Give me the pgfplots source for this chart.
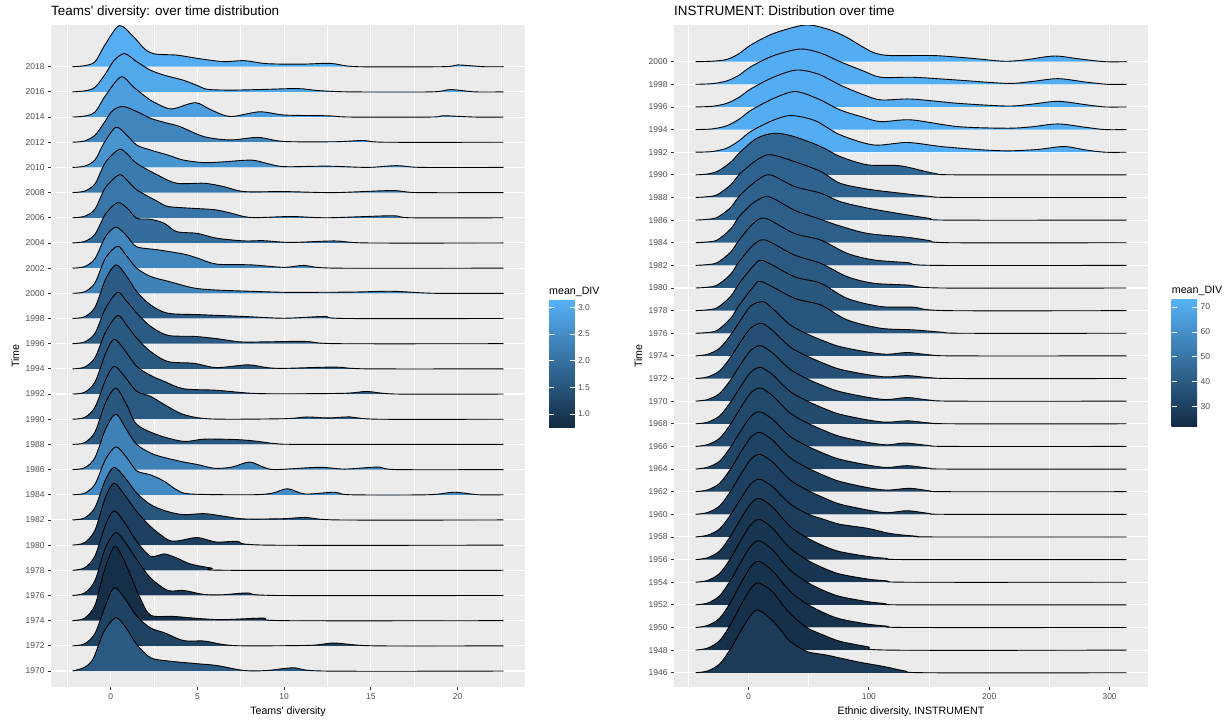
\documentclass[border=0pt]{standalone}
\usepackage{fontspec}
\setmainfont{Liberation Sans}[Ligatures=TeXOff]
\usepackage{pgfplots}
\pgfplotsset{compat=1.18}

\definecolor{gglo}{HTML}{132B43}
\definecolor{gghi}{HTML}{56B1F7}
\definecolor{ggpanel}{HTML}{EBEBEB}
\definecolor{ggtext}{HTML}{4D4D4D}
\definecolor{ggtick}{HTML}{333333}

\pgfplotsset{
  every axis title shift=0pt,
  ggpanel/.style={
    scale only axis, width=474bp, height=662bp, anchor=south west,
    axis background/.style={fill=ggpanel},
    axis line style={draw=none},
    tick align=outside, major tick length=3bp, minor tick length=0pt,
    xtick pos=left, ytick pos=left,
    tick style={ggtick, line width=0.8bp},
    xmajorgrids, xminorgrids, ymajorgrids,
    major grid style={white, line width=1.07bp},
    minor grid style={white, line width=0.53bp},
    /pgf/number format/assume math mode=true,
    /pgf/number format/1000 sep={},
    ticklabel style={font=\fontsize{8.5}{10}\selectfont, text=ggtext},
    label style={font=\fontsize{10.7}{12}\selectfont},
    title style={at={(axis description cs:0,1.01405)}, anchor=base west,
      inner sep=0pt, font=\fontsize{13.5}{15}\selectfont},
    xlabel style={at={(axis description cs:0.5,-0.04154)}, anchor=base},
    ylabel style={at={(axis description cs:-0.0675,0.5)}, anchor=base},
  },
  ggbar/.style={
    scale only axis, width=25.5bp, height=127bp, anchor=south west,
    xmin=0, xmax=1, xtick=\empty,
    axis line style={draw=none},
    axis background/.style={bottom color=gglo, top color=gghi},
    ytick pos=both, yticklabel pos=right, tick align=inside,
    major tick length=5bp, tick style={white, line width=0.5bp},
    yticklabel style={font=\fontsize{8.5}{10}\selectfont, text=ggtext},
    /pgf/number format/assume math mode=true,
    title={mean\_DIV},
    title style={at={(axis description cs:0,1)}, anchor=base west,
      inner sep=0pt, yshift=6bp, font=\fontsize{10.7}{12}\selectfont},
  },
  % ridge: baseline year, colour share of the light end
  ridge/.style 2 args={y filter/.expression={#1+2*y}, fill=gghi!#2!gglo,
    draw=black, line width=0.9bp, smooth},
}

\begin{document}
\begin{tikzpicture}
\useasboundingbox (0bp,0bp) rectangle (1228bp,-721bp);

% ---------------- left panel ----------------
\begin{axis}[ggpanel, at={(51bp,-687bp)},
  xmin=-3.44, xmax=23.89, ymin=1968.73, ymax=2021.31,
  xtick={0,5,10,15,20}, minor xtick={-2.5,2.5,7.5,12.5,17.5,22.5},
  ytick={1970,1972,...,2018},
  title={Teams' diversity: over time distribution},
  xlabel={Teams' diversity}, ylabel={Time}]
\addplot[ridge={2018}{98}] coordinates {(-2.2,0)(-1.5,0.04)(-0.9,0.2)(-0.3,0.9)(0.5,1.63)(1.3,1.2)(2.0,0.68)(2.6,0.5)(3.8,0.46)(5,0.33)(6.5,0.2)(7.7,0.24)(9,0.12)(11,0.1)(12.7,0.13)(14.2,0)(19.2,0)(20,0.07)(21.5,0)(22.65,0)};
\addplot[ridge={2016}{93}] coordinates {(-2.2,0)(-1.5,0.04)(-0.9,0.18)(-0.3,0.72)(0.2,1.25)(0.8,1.52)(1.5,1.2)(2.3,0.86)(3.1,0.66)(4.2,0.46)(5,0.25)(5.6,0.1)(7,0.07)(9,0.1)(10.8,0.13)(12,0.05)(13.8,0)(18.5,0)(19.6,0.09)(21,0)(22.65,0)};
\addplot[ridge={2014}{86}] coordinates {(-2.2,0)(-1.5,0.04)(-0.9,0.2)(-0.3,0.85)(0.6,1.6)(1.3,1.2)(2.3,0.67)(3.3,0.34)(3.8,0.36)(4.9,0.57)(5.8,0.28)(6.9,0.02)(8.6,0.21)(10,0.08)(12.5,0.05)(13.8,0)(18.5,0)(19.2,0.05)(21,0)(22.65,0)};
\addplot[ridge={2012}{67}] coordinates {(-2.2,0)(-1.5,0.05)(-0.9,0.28)(-0.4,0.75)(0.1,1.25)(0.7,1.42)(1.5,1.22)(2.3,0.95)(3.3,0.75)(4,0.62)(5.4,0.22)(6.9,0.09)(8.5,0.19)(10,0.03)(13,0.02)(14.6,0.07)(15.8,0)(22.65,0)};
\addplot[ridge={2010}{78}] coordinates {(-2.2,0)(-1.5,0.05)(-0.9,0.3)(-0.4,0.95)(0.3,1.59)(0.9,1.3)(1.5,0.89)(2.3,0.69)(3.3,0.49)(4.2,0.29)(5.4,0.19)(6.5,0.22)(8.1,0.29)(9,0.16)(10,0.03)(12.5,0.05)(14.8,0)(16.5,0.07)(17.9,0)(22.65,0)};
\addplot[ridge={2008}{58}] coordinates {(-2.2,0)(-1.5,0.06)(-0.9,0.35)(-0.3,1.2)(0.5,1.72)(1.0,1.5)(1.5,1.16)(2.7,0.7)(3.8,0.37)(5.4,0.37)(6.5,0.24)(7.7,0.04)(10,0.04)(12.9,0)(16.2,0.08)(17.7,0)(22.65,0)};
\addplot[ridge={2006}{57}] coordinates {(-2.2,0)(-1.5,0.06)(-0.9,0.35)(-0.3,1.2)(0.5,1.71)(1.0,1.45)(1.5,1.11)(2.7,0.65)(3.3,0.45)(4.6,0.38)(6,0.32)(6.9,0.19)(8.1,0.01)(10.4,0.05)(12.5,0)(16.2,0.08)(17.3,0)(22.65,0)};
\addplot[ridge={2004}{49}] coordinates {(-2.2,0)(-1.5,0.06)(-0.9,0.35)(-0.3,1.15)(0.4,1.6)(1.0,1.35)(1.5,0.98)(2.3,0.94)(3.1,0.78)(3.8,0.45)(5,0.38)(6.1,0.19)(7.7,0.08)(8.8,0.09)(10.4,0.02)(12.9,0.08)(14.8,0)(22.65,0)};
\addplot[ridge={2002}{67}] coordinates {(-2.2,0)(-1.5,0.06)(-0.9,0.38)(-0.3,1.25)(0.3,1.63)(0.9,1.3)(1.5,0.85)(2.7,0.73)(4.2,0.56)(5,0.4)(6.1,0.16)(8.1,0.13)(10,0.03)(11.2,0.11)(12.9,0)(22.65,0)};
\addplot[ridge={2000}{65}] coordinates {(-2.2,0)(-1.5,0.06)(-0.9,0.42)(-0.3,1.4)(0.4,1.87)(0.9,1.5)(1.5,1.0)(2.3,0.67)(3.3,0.48)(4.8,0.21)(6.1,0.13)(8.1,0.08)(10,0.04)(12,0.04)(14,0.05)(15.8,0.08)(16.7,0.07)(18.7,0)(22.65,0)};
\addplot[ridge={1998}{36}] coordinates {(-2.2,0)(-1.5,0.07)(-0.9,0.45)(-0.3,1.55)(0.3,2.13)(0.9,1.7)(1.5,1.07)(2.3,0.54)(3.3,0.21)(5.2,0.15)(7.7,0.08)(10,0.01)(12.3,0.08)(13.5,0)(22.65,0)};
\addplot[ridge={1996}{36}] coordinates {(-2.2,0)(-1.5,0.07)(-0.9,0.42)(-0.3,1.4)(0.4,2.04)(0.9,1.7)(1.5,1.22)(2.3,0.69)(3.3,0.33)(4.8,0.29)(6.1,0.2)(7.5,0.07)(8.8,0.07)(11.2,0.09)(13.1,0)(22.65,0)};
\addplot[ridge={1994}{34}] coordinates {(-2.2,0)(-1.5,0.07)(-0.9,0.45)(-0.3,1.45)(0.4,2.12)(0.9,1.75)(1.5,1.22)(2.3,0.69)(3.3,0.29)(4.8,0.22)(6.1,0.05)(7.9,0.16)(9,0.05)(10,0.02)(12.9,0.07)(14.8,0)(22.65,0)};
\addplot[ridge={1992}{35}] coordinates {(-2.2,0)(-1.5,0.07)(-0.9,0.48)(-0.3,1.6)(0.2,2.18)(0.8,1.75)(1.5,1.1)(2.3,0.74)(3.1,0.5)(4.2,0.21)(6.1,0.15)(8.1,0.03)(10,0.01)(13.5,0.03)(14.8,0.1)(16.5,0)(22.65,0)};
\addplot[ridge={1990}{35}] coordinates {(-2.2,0)(-1.5,0.07)(-0.9,0.48)(-0.3,1.55)(0.2,2.1)(0.8,1.7)(1.5,1.11)(2.3,0.91)(3.1,0.58)(4.2,0.19)(5.8,0.01)(10,0.02)(11.3,0.09)(12.5,0.05)(13.8,0.09)(15.4,0)(22.65,0)};
\addplot[ridge={1988}{33}] coordinates {(-2.2,0)(-1.5,0.07)(-0.9,0.5)(-0.3,1.65)(0.3,2.24)(0.9,1.6)(1.5,0.8)(2.7,0.38)(4.2,0.12)(5.4,0.21)(7.3,0.19)(8.5,0.12)(9.5,0.03)(11.2,0)(22.65,0)};
\addplot[ridge={1986}{64}] coordinates {(-2.2,0)(-1.5,0.07)(-0.9,0.48)(-0.3,1.6)(0.3,2.2)(0.9,1.6)(1.5,1.0)(2.5,0.6)(4,0.33)(5,0.2)(6,0.05)(7,0.1)(8,0.3)(8.8,0.1)(9.5,0)(12,0.09)(13.5,0.02)(15.4,0.1)(16.5,0)(22.65,0)};
\addplot[ridge={1984}{71}] coordinates {(-2.2,0)(-1.5,0.06)(-0.9,0.42)(-0.3,1.4)(0.3,1.9)(0.9,1.5)(1.5,0.95)(2.3,0.79)(3.1,0.53)(3.8,0.2)(4.6,0.03)(8.1,0)(9.3,0.06)(10.2,0.24)(11.2,0.03)(12.9,0.1)(13.8,0)(18.3,0)(19.8,0.1)(21.2,0)(22.65,0)};
\addplot[ridge={1982}{31}] coordinates {(-2.2,0)(-1.5,0.08)(-0.9,0.5)(-0.3,1.6)(0.2,2.09)(0.8,1.7)(1.5,1.07)(2.3,0.61)(3.2,0.35)(4.2,0.21)(5.4,0.25)(6.5,0.15)(7.7,0.04)(10,0.05)(11.3,0.1)(13.1,0)(22.65,0)};
\addplot[ridge={1980}{16}] coordinates {(-2.2,0)(-1.5,0.1)(-0.9,0.6)(-0.3,1.9)(0.2,2.46)(0.8,2.0)(1.5,1.34)(2.3,0.74)(3.3,0.21)(3.9,0.17)(5,0.3)(6.1,0.12)(7.3,0.15)(9,0)(22.65,0)};
\addplot[ridge={1978}{16}] coordinates {(-2.2,0)(-1.5,0.1)(-0.9,0.58)(-0.3,1.8)(0.2,2.36)(0.8,1.9)(1.5,1.15)(2.3,0.56)(3.1,0.65)(3.8,0.49)(4.6,0.25)(5.8,0.09)(6.9,0)(22.65,0)};
\addplot[ridge={1976}{10}] coordinates {(-2.2,0)(-1.5,0.1)(-0.9,0.6)(-0.3,1.9)(0.3,2.5)(0.9,2.05)(1.5,1.43)(2.3,0.7)(3.3,0.2)(4.2,0.2)(5.4,0.04)(6.5,0.03)(7.9,0.1)(9.6,0)(22.65,0)};
\addplot[ridge={1974}{3}] coordinates {(-2.2,0)(-1.5,0.1)(-0.9,0.62)(-0.4,1.9)(0.2,2.94)(0.7,2.5)(1.2,1.7)(1.7,0.9)(2.3,0.22)(3.6,0.17)(5.2,0.08)(6.5,0.04)(8.8,0.1)(10,0)(22.65,0)};
\addplot[ridge={1972}{18}] coordinates {(-2.2,0)(-1.5,0.08)(-0.9,0.5)(-0.3,1.6)(0.2,2.31)(0.8,1.9)(1.5,1.18)(2.3,0.71)(3.1,0.52)(4.2,0.21)(5.4,0.19)(6.5,0.05)(7.7,0)(11.5,0.02)(12.9,0.11)(15.2,0)(22.65,0)};
\addplot[ridge={1970}{35}] coordinates {(-2.2,0)(-1.5,0.15)(-1.0,0.5)(-0.4,1.55)(0.3,2.12)(0.9,1.7)(1.5,1.06)(2.3,0.53)(3.3,0.4)(5,0.29)(6.1,0.22)(7.7,0.02)(9,0.02)(10.6,0.13)(12.3,0)(22.65,0)};
\end{axis}

\begin{axis}[ggbar, at={(549bp,-427bp)}, ymin=0.756, ymax=3.137,
  ytick={1,1.5,2,2.5,3},
  yticklabel style={/pgf/number format/.cd, fixed, fixed zerofill, precision=1}]
\end{axis}

% ---------------- right panel ----------------
\begin{axis}[ggpanel, at={(674bp,-687bp)},
  xmin=-61.9, xmax=331.9, ymin=1944.74, ymax=2003.24,
  xtick={0,100,200,300}, minor xtick={-50,50,150,250},
  ytick={1946,1948,...,2000},
  title={INSTRUMENT: Distribution over time},
  xlabel={Ethnic diversity, INSTRUMENT}, ylabel={Time}]
\addplot[ridge={2000}{97}] coordinates {(-44,0)(-30,0.02)(-18,0.1)(-8,0.35)(2,0.74)(21,1.25)(47,1.62)(65,1.45)(80,1.12)(95,0.65)(105,0.38)(118,0.27)(154,0.27)(185,0.15)(212,0.02)(230,0.08)(254,0.25)(275,0.12)(296,0)(314,0)};
\addplot[ridge={1998}{97}] coordinates {(-44,0)(-30,0.03)(-18,0.15)(-8,0.4)(2,0.78)(21,1.27)(43,1.56)(60,1.38)(76,1.0)(95,0.6)(110,0.31)(137,0.31)(173,0.19)(215,0.04)(235,0.12)(257,0.25)(280,0.1)(298,0)(314,0)};
\addplot[ridge={1996}{97}] coordinates {(-44,0)(-30,0.03)(-18,0.16)(-8,0.42)(2,0.8)(21,1.32)(40,1.63)(58,1.45)(76,0.97)(95,0.55)(110,0.31)(135,0.35)(174,0.16)(215,0.04)(235,0.12)(257,0.25)(280,0.1)(296,0)(314,0)};
\addplot[ridge={1994}{97}] coordinates {(-44,0)(-30,0.03)(-18,0.17)(-8,0.45)(2,0.85)(21,1.38)(39,1.68)(58,1.35)(76,0.87)(95,0.55)(110,0.35)(135,0.43)(174,0.13)(215,0.06)(235,0.12)(257,0.25)(280,0.1)(296,0)(314,0)};
\addplot[ridge={1992}{97}] coordinates {(-44,0)(-30,0.03)(-18,0.18)(-8,0.5)(2,0.92)(20,1.4)(35,1.62)(55,1.4)(76,0.77)(104,0.32)(132,0.43)(160,0.25)(190,0.12)(215,0.06)(240,0.12)(262,0.25)(280,0.1)(296,0)(314,0)};
\addplot[ridge={1990}{44}] coordinates {(-44,0)(-35,0.03)(-26,0.15)(-15,0.55)(-7,1.0)(7,1.62)(22,1.84)(38,1.69)(60,1.25)(76,0.81)(99,0.44)(126,0.4)(154,0.07)(174,0)(314,0)};
\addplot[ridge={1988}{42}] coordinates {(-44,0)(-35,0.03)(-26,0.12)(-15,0.55)(-7,1.05)(7,1.66)(18,1.89)(38,1.59)(60,1.15)(76,0.63)(99,0.37)(126,0.19)(150,0.05)(171,0)(314,0)};
\addplot[ridge={1986}{41}] coordinates {(-44,0)(-35,0.03)(-26,0.12)(-15,0.55)(-7,1.1)(7,1.75)(18,2.0)(38,1.49)(60,1.19)(76,0.82)(99,0.53)(126,0.28)(150,0.08)(165,0)(314,0)};
\addplot[ridge={1984}{39}] coordinates {(-44,0)(-35,0.03)(-26,0.12)(-15,0.6)(-7,1.2)(5,1.8)(17,2.03)(38,1.44)(60,1.03)(76,0.74)(99,0.41)(132,0.24)(150,0.1)(168,0)(314,0)};
\addplot[ridge={1982}{37}] coordinates {(-44,0)(-35,0.03)(-26,0.12)(-15,0.58)(-8,1.1)(4,1.85)(14,2.08)(38,1.41)(60,1.12)(82,0.53)(104,0.24)(132,0.12)(154,0)(314,0)};
\addplot[ridge={1980}{35}] coordinates {(-44,0)(-35,0.03)(-26,0.13)(-15,0.6)(-8,1.15)(4,1.9)(14,2.12)(38,1.46)(60,1.09)(82,0.5)(104,0.21)(132,0.13)(160,0)(314,0)};
\addplot[ridge={1978}{33}] coordinates {(-44,0)(-35,0.03)(-26,0.13)(-15,0.62)(-8,1.18)(4,1.97)(12,2.21)(38,1.5)(60,1.21)(82,0.54)(110,0.18)(137,0.15)(165,0)(314,0)};
\addplot[ridge={1976}{31}] coordinates {(-44,0)(-35,0.03)(-26,0.13)(-15,0.65)(-8,1.22)(4,2.05)(11,2.28)(38,1.55)(60,1.25)(82,0.59)(110,0.22)(137,0.15)(160,0.05)(179,0)(314,0)};
\addplot[ridge={1974}{29}] coordinates {(-44,0)(-34,0.07)(-24,0.34)(-15,0.91)(-6,1.63)(2,2.21)(12,2.4)(20,2.09)(28,1.68)(36,1.32)(49,0.96)(63,0.65)(76,0.41)(99,0.17)(115,0.07)(132,0.15)(150,0.05)(172,0)(314,0)};
\addplot[ridge={1972}{27}] coordinates {(-44,0)(-34,0.07)(-24,0.34)(-15,0.93)(-6,1.66)(2,2.24)(11,2.44)(20,2.12)(28,1.71)(36,1.34)(49,0.98)(63,0.66)(76,0.41)(99,0.17)(115,0.07)(132,0.13)(150,0.04)(174,0)(314,0)};
\addplot[ridge={1970}{26}] coordinates {(-44,0)(-34,0.07)(-24,0.34)(-15,0.93)(-6,1.67)(2,2.25)(10,2.45)(20,2.13)(28,1.72)(36,1.35)(49,0.98)(63,0.66)(76,0.42)(99,0.17)(115,0.07)(132,0.16)(150,0.05)(172,0)(314,0)};
\addplot[ridge={1968}{24}] coordinates {(-44,0)(-34,0.07)(-24,0.35)(-15,0.95)(-6,1.69)(2,2.29)(10,2.49)(20,2.17)(28,1.74)(36,1.37)(49,1.0)(63,0.67)(76,0.42)(99,0.17)(115,0.07)(132,0.13)(150,0.04)(170,0)(314,0)};
\addplot[ridge={1966}{22}] coordinates {(-44,0)(-34,0.08)(-24,0.36)(-15,0.98)(-6,1.75)(2,2.37)(10,2.58)(20,2.24)(28,1.81)(36,1.42)(49,1.03)(63,0.7)(76,0.44)(99,0.18)(115,0.07)(130,0.15)(150,0.04)(168,0)(314,0)};
\addplot[ridge={1964}{20}] coordinates {(-44,0)(-34,0.08)(-24,0.35)(-15,0.96)(-6,1.72)(2,2.33)(9.5,2.53)(20,2.2)(28,1.77)(36,1.39)(49,1.01)(63,0.68)(76,0.43)(99,0.18)(115,0.07)(132,0.15)(150,0.04)(166,0)(314,0)};
\addplot[ridge={1962}{18}] coordinates {(-44,0)(-34,0.08)(-24,0.37)(-15,1.0)(-6,1.78)(2,2.41)(9.5,2.62)(20,2.28)(28,1.83)(36,1.44)(49,1.05)(63,0.71)(76,0.45)(99,0.18)(115,0.07)(134,0.15)(150,0.04)(166,0)(314,0)};
\addplot[ridge={1960}{16}] coordinates {(-44,0)(-34,0.08)(-24,0.37)(-15,1.01)(-6,1.8)(2,2.44)(9.5,2.65)(20,2.31)(28,1.86)(36,1.46)(49,1.06)(63,0.72)(76,0.45)(99,0.19)(115,0.07)(132,0.16)(150,0.04)(166,0)(314,0)};
\addplot[ridge={1958}{14}] coordinates {(-44,0)(-34,0.08)(-24,0.36)(-15,0.97)(-6,1.73)(2,2.35)(9.5,2.55)(20,2.22)(28,1.79)(36,1.4)(49,1.02)(63,0.77)(76,0.56)(99,0.38)(118,0.15)(140,0.03)(154,0)(314,0)};
\addplot[ridge={1956}{9}] coordinates {(-44,0)(-34,0.08)(-24,0.38)(-15,1.03)(-6,1.84)(2,2.48)(9.5,2.7)(20,2.32)(28,1.84)(36,1.4)(49,0.95)(63,0.59)(76,0.35)(99,0.14)(115,0.05)(132,0)(314,0)};
\addplot[ridge={1954}{8}] coordinates {(-44,0)(-34,0.08)(-24,0.39)(-15,1.05)(-6,1.88)(2,2.55)(9.5,2.77)(20,2.38)(28,1.88)(36,1.44)(49,0.97)(63,0.61)(76,0.36)(99,0.14)(115,0.06)(132,0)(314,0)};
\addplot[ridge={1952}{7}] coordinates {(-44,0)(-34,0.08)(-24,0.4)(-15,1.08)(-6,1.92)(2,2.6)(9,2.83)(20,2.43)(28,1.92)(36,1.47)(49,0.99)(63,0.62)(76,0.37)(99,0.14)(113,0.06)(128,0)(314,0)};
\addplot[ridge={1950}{5}] coordinates {(-44,0)(-34,0.09)(-24,0.41)(-15,1.11)(-6,1.99)(2,2.69)(9,2.92)(20,2.51)(28,1.99)(36,1.52)(49,1.02)(63,0.64)(76,0.38)(99,0.15)(115,0.06)(132,0)(314,0)};
\addplot[ridge={1948}{4}] coordinates {(-44,0)(-34,0.09)(-24,0.42)(-15,1.13)(-6,2.02)(2,2.73)(8.5,2.97)(20,2.58)(28,2.02)(36,1.54)(49,0.98)(63,0.65)(76,0.39)(99,0.15)(118,0)(314,0)};
\addplot[ridge={1946}{12}] coordinates {(-44,0)(-34,0.08)(-24,0.39)(-15,1.05)(-6,1.88)(2,2.55)(8.5,2.77)(20,2.3)(28,1.8)(35,1.37)(49,0.93)(65,0.78)(90,0.49)(113,0.27)(130,0.08)(149,0)(314,0)};
\end{axis}

\begin{axis}[ggbar, at={(1171.7bp,-426.7bp)}, ymin=21.9, ymax=72.9,
  ytick={30,40,50,60,70}]
\end{axis}
\end{tikzpicture}
\end{document}
